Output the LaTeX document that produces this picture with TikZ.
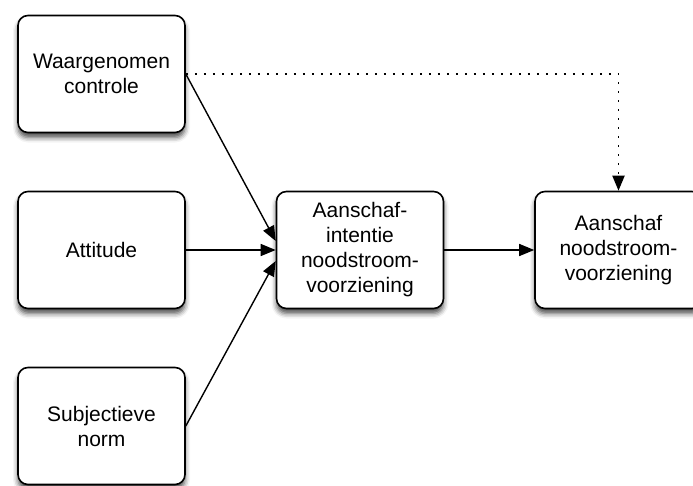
\documentclass[tikz,border=0pt]{standalone}
\usepackage{fontspec}
\setmainfont{Liberation Sans}
\usetikzlibrary{arrows.meta,shadows.blur}
\begin{document}
\begin{tikzpicture}[x=1pt,y=-1pt,
  box/.style={draw=black, line width=1.6pt, rounded corners=10pt, fill=white,
    minimum width=167pt, minimum height=117pt, align=center,
    font=\fontsize{21}{25}\selectfont,
    blur shadow={shadow xshift=0pt, shadow yshift=-5pt, shadow blur radius=5pt, shadow opacity=70}},
  link/.style={line width=1.4pt, -{Triangle[length=15pt,width=12pt]}},
  dotlink/.style={line width=1.9pt, dash pattern=on 1.9pt off 7.1pt,
    -{Triangle[length=15pt,width=12pt]}}
]
\useasboundingbox (0,0) rectangle (693,485);
\node[box] (control) at (101.5,74) {Waargenomen\\controle};
\node[box] (attitude) at (101.5,250) {Attitude};
\node[box] (norm) at (101.5,426) {Subjectieve\\norm};
\node[box] (intent) at (360,250) {Aanschaf-\\intentie\\noodstroom-\\voorziening};
\node[box] (purchase) at (618.5,250) {Aanschaf\\noodstroom-\\voorziening};

\draw[link] (control.east) -- ([yshift=9pt]intent.west);
\draw[link] (attitude.east) -- (intent.west);
\draw[link] (norm.east) -- ([yshift=-11pt]intent.west);
\draw[link] (intent.east) -- (purchase.west);
\draw[dotlink] (control.east) -| (purchase.north);
\end{tikzpicture}
\end{document}
